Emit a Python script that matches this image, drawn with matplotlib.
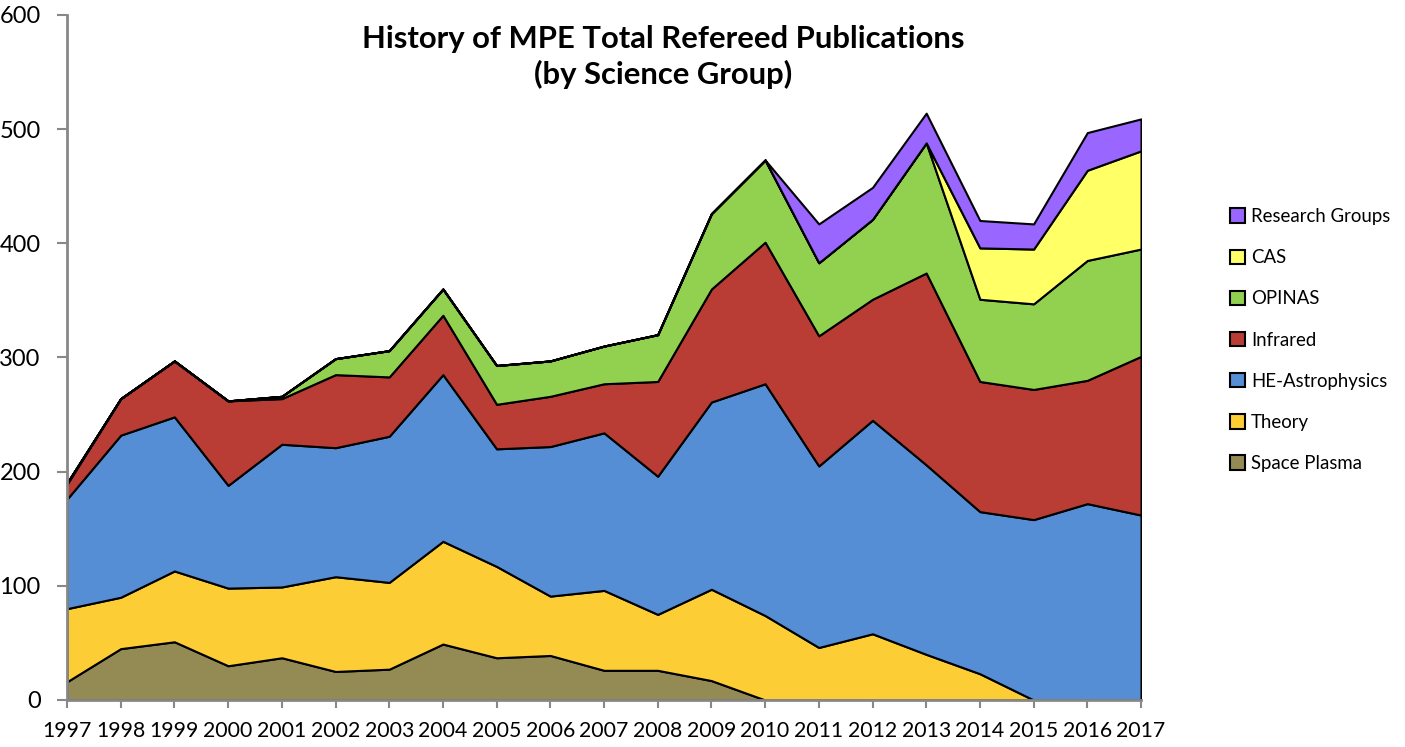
import matplotlib
matplotlib.use("Agg")
import matplotlib.pyplot as plt
import numpy as np

plt.rcParams['font.family'] = ['Lato', 'DejaVu Sans']

# годы и публикации по группам
years = list(range(1997, 2018))
space_plasma = [16, 45, 51, 30, 37, 25, 27, 49, 37, 39, 26, 26, 17, 0, 0, 0, 0, 0, 0, 0, 0]
theory = [64, 45, 62, 68, 62, 83, 76, 90, 80, 52, 70, 49, 80, 74, 46, 58, 40, 23, 0, 0, 0]
he_astro = [96, 142, 135, 90, 125, 113, 128, 146, 103, 131, 138, 121, 164, 203, 159, 187, 166, 142, 158, 172, 162]
infrared = [13, 32, 49, 74, 40, 64, 52, 52, 39, 44, 43, 83, 99, 124, 114, 106, 168, 114, 114, 108, 139]
opinas = [1, 0, 0, 0, 2, 14, 23, 23, 34, 31, 33, 41, 66, 72, 64, 70, 114, 72, 75, 105, 94]
cas = [0, 0, 0, 0, 0, 0, 0, 0, 0, 0, 0, 0, 0, 0, 0, 0, 0, 45, 48, 79, 86]
research = [0, 0, 0, 0, 0, 0, 0, 0, 0, 0, 0, 0, 0, 0, 34, 28, 26, 24, 22, 33, 28]

labels = ['Space Plasma', 'Theory', 'HE-Astrophysics', 'Infrared', 'OPINAS', 'CAS', 'Research Groups']
colors = ['#948A54', '#FDCD35', '#558ED5', '#B93D35', '#92D050', '#FFFF66', '#9966FF']

fig = plt.figure(figsize=(14.05, 7.47), dpi=100)
ax = fig.add_axes([67/1405, 47/747, 1074/1405, 685/747])

polys = ax.stackplot(years, space_plasma, theory, he_astro, infrared, opinas, cas, research,
                     colors=colors, labels=labels, edgecolor='black', linewidth=1.5)

ax.set_xlim(1997, 2017)
ax.set_ylim(0, 600)
ax.set_xticks(years)
ax.set_yticks(range(0, 601, 100))
ax.tick_params(axis='both', color='#888888', direction='out', width=1.5)
ax.tick_params(axis='x', length=6, pad=9, labelsize=15.3)
ax.tick_params(axis='y', length=7, pad=12, labelsize=17)
for s in ['top', 'right']:
    ax.spines[s].set_visible(False)
for s in ['left', 'bottom']:
    ax.spines[s].set_color('#888888')
    ax.spines[s].set_linewidth(2)

fig.text(663/1405, 1 - 57/747, 'History of MPE Total Refereed Publications\n(by Science Group)',
         ha='center', va='center', fontsize=22.3, fontweight='bold', linespacing=1.25)

h, l = ax.get_legend_handles_labels()
leg = fig.legend(h[::-1], l[::-1], loc='center left', bbox_to_anchor=(1213/1405, 1 - 340/747),
                 frameon=False, fontsize=13.4, labelspacing=1.3, handlelength=0.8,
                 handleheight=0.8, handletextpad=0.35)
for p in leg.get_patches():
    p.set_linewidth(1.5)

fig.savefig('out.png', dpi=100)
